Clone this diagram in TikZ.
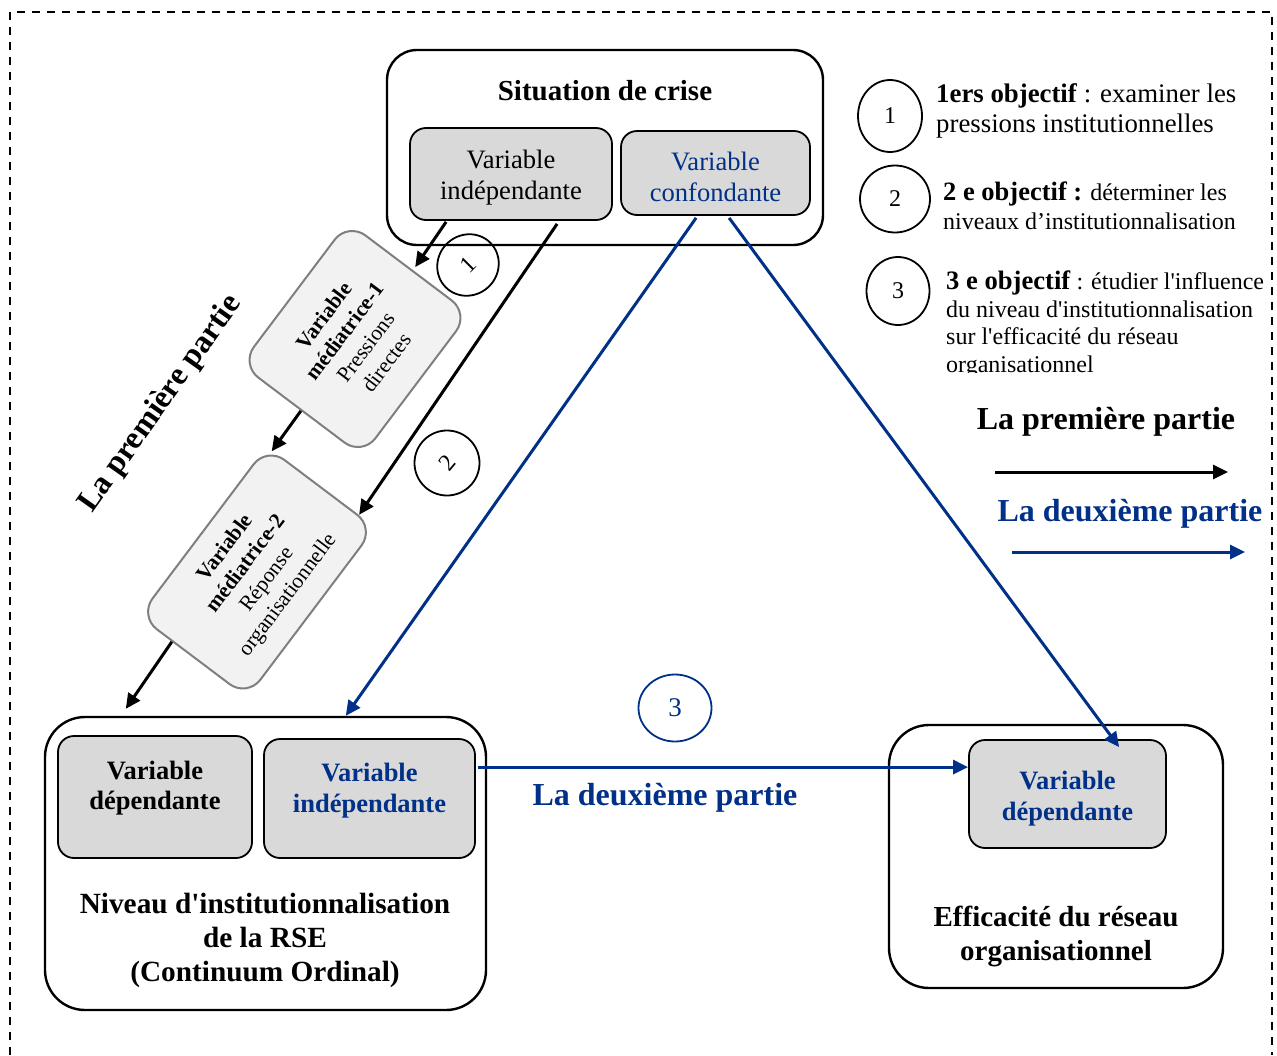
\documentclass[tikz,border=0pt]{standalone}
\usepackage{fontspec}
\setmainfont{Liberation Serif}[Ligatures=TeXOff]
\usetikzlibrary{arrows.meta,calc,shapes.geometric}
\definecolor{navy}{RGB}{0,48,135}
\definecolor{vargray}{RGB}{217,217,217}
\definecolor{medfill}{RGB}{242,242,242}
\definecolor{medline}{RGB}{127,127,127}
\newcommand{\fs}[2]{\fontsize{#1}{#2}\selectfont}

\begin{document}
\begin{tikzpicture}[x=1pt,y=-1pt,
	outerbox/.style={draw,line width=2.4pt,rounded corners=#1},
	varbox/.style={draw,fill=vargray,line width=1.8pt,rounded corners=16pt,align=center,inner sep=0pt},
	medbox/.style={draw=medline,fill=medfill,line width=2pt,rounded corners=22pt,align=center,rotate=53,inner sep=0pt},
	numring/.style={draw,ellipse,line width=1.8pt,inner sep=0pt,font=\fs{24}{28}},
	blackarrow/.style={line width=3pt,-{Triangle[length=15pt,width=14pt]}},
	bluearrow/.style={navy,line width=3pt,-{Triangle[length=15pt,width=14pt]}}]
	\useasboundingbox (0,0) rectangle (1277,1055);
	
	% cadre
	\draw[line width=2pt,dash pattern=on 8pt off 7pt] (10,1055) -- (10,12) -- (1272,12) -- (1272,1055);
	
	% situation de crise
	\node[outerbox=30pt,minimum width=436pt,minimum height=195pt] (crise) at (605,147.5) {};
	\node[font=\fs{29}{34}\bfseries] (crisetitle) at (605,91) {Situation de crise};
	\node[varbox,minimum width=202pt,minimum height=92pt,font=\fs{26.6}{31}] (indep) at (511,174) {};
	\node[font=\fs{26.6}{31},align=center] (indeptext) at (511,178) {Variable\\indépendante};
	\node[varbox,minimum width=189pt,minimum height=84pt] (confond) at (715.5,173) {};
	\node[font=\fs{26.6}{31},align=center,text=navy] (confondtext) at (715.5,177) {Variable\\confondante};
	
	% niveau d'institutionnalisation
	\node[outerbox=40pt,minimum width=441pt,minimum height=293pt] (niveau) at (265.5,863.5) {};
	\node[varbox,minimum width=194pt,minimum height=122pt] (vdep) at (155,797) {};
	\node[font=\fs{26.5}{30}\bfseries,align=center] (vdeptext) at (155,788) {Variable\\dépendante};
	\node[varbox,minimum width=211pt,minimum height=119pt] (vind) at (369.5,798.5) {};
	\node[font=\fs{26.5}{31}\bfseries,align=center,text=navy] (vindtext) at (369.5,791) {Variable\\indépendante};
	\node[font=\fs{29.3}{34}\bfseries,align=center] (niveautitle) at (265,940) {Niveau d'institutionnalisation\\de la RSE\\(Continuum Ordinal)};
	
	% efficacite
	\node[outerbox=40pt,minimum width=334pt,minimum height=263pt] (efficacite) at (1056,856.5) {};
	\node[varbox,minimum width=197pt,minimum height=108pt] (vdepb) at (1067.5,794) {};
	\node[font=\fs{26.5}{31}\bfseries,align=center,text=navy] (vdepbtext) at (1067.5,799) {Variable\\dépendante};
	\node[font=\fs{29}{34}\bfseries,align=center] (efftitle) at (1056,936) {Efficacité du réseau\\organisationnel};
	
	% variables mediatrices
	\node[medbox,minimum width=178pt,minimum height=152pt,font=\fs{21.5}{26}] (med1) at (355,339) {\textbf{Variable}\\\textbf{médiatrice-1}\\Pressions\\directes};
	\node[medbox,minimum width=212pt,minimum height=135pt,font=\fs{21.5}{26}] (med2) at (257,572) {\textbf{Variable}\\\textbf{médiatrice-2}\\Réponse\\organisationnelle};
	\node[rotate=54.6,font=\fs{32}{36}\bfseries] (partie1) at (161,404) {La première partie};
	
	% objectifs
	\node[numring,minimum width=63pt,minimum height=60pt,rotate=45] (obj1) at (468,265) {1};
	\node[numring,minimum width=65pt,minimum height=65pt,rotate=50] (obj2) at (447,463) {2};
	\node[numring,navy,minimum width=73pt,minimum height=67pt,font=\fs{27}{30}] (obj3) at (675,708) {3};
	
	% fleches premiere partie
	\draw[blackarrow] ($(indep.south west)+(37,1)$) -- ($(med1.east)+(6,0)$);
	\draw[blackarrow] (med1.west) -- ($(med2.north east)+(5,6)$);
	\draw[blackarrow] ($(indep.south west)+(148,3)$) -- ($(med2.south east)+(-17,-13)$);
	\draw[blackarrow] ($(med2.north west)!0.31!(med2.south west)$) -- ($(niveau.north west)+(82,-7)$);
	
	% fleches deuxieme partie
	\draw[bluearrow] ($(confond.south west)+(76,2)$) -- ($(niveau.north west)+(302,0)$);
	\draw[bluearrow] ($(confond.south west)+(109,2)$) -- ($(vdepb.north west)+(151,8)$);
	\draw[bluearrow] ($(vind.north east)+(2,29)$) coordinate (b3) -- (b3 -| vdepb.west);
	\node[font=\fs{32}{36}\bfseries,text=navy] (partie2) at (665,798) {La deuxième partie};
	
	% legende
	\node[numring,minimum width=64pt,minimum height=72pt] (leg1ring) at (890,116) {1};
	\node[numring,minimum width=70pt,minimum height=67pt] (leg2ring) at (895,199) {2};
	\node[numring,minimum width=63pt,minimum height=68pt] (leg3ring) at (898,291) {3};
	\node[anchor=west,align=left,inner sep=0pt,font=\fs{26.8}{30}] (leg1) at (936,111) {\textbf{1ers objectif} : examiner les\\pressions institutionnelles};
	\node[anchor=west,align=left,inner sep=0pt,font=\fs{24}{29}] (leg2) at (943,206) {\textbf{\fs{26.5}{29}2 e objectif :} déterminer les\\niveaux d’institutionnalisation};
	\begin{scope}
		\clip (930,250) rectangle (1270,372);
		\node[anchor=west,align=left,inner sep=0pt,font=\fs{24}{27.5}] (leg3) at (946,324) {\textbf{\fs{26.6}{27.5}3 e objectif} : étudier l'influence\\du niveau d'institutionnalisation\\sur l'efficacité du réseau\\organisationnel};
	\end{scope}
	
	\node[font=\fs{32}{36}\bfseries] (leg1part) at (1106,422) {La première partie};
	\coordinate (l1a) at (995,472);
	\coordinate (l1b) at (1228,472);
	\draw[blackarrow] (l1a) -- (l1b);
	\node[font=\fs{32}{36}\bfseries,text=navy] (leg2part) at (1130,514) {La deuxième partie};
	\coordinate (l2a) at (1012,552);
	\coordinate (l2b) at (1245,552);
	\draw[bluearrow] (l2a) -- (l2b);
\end{tikzpicture}
\end{document}
